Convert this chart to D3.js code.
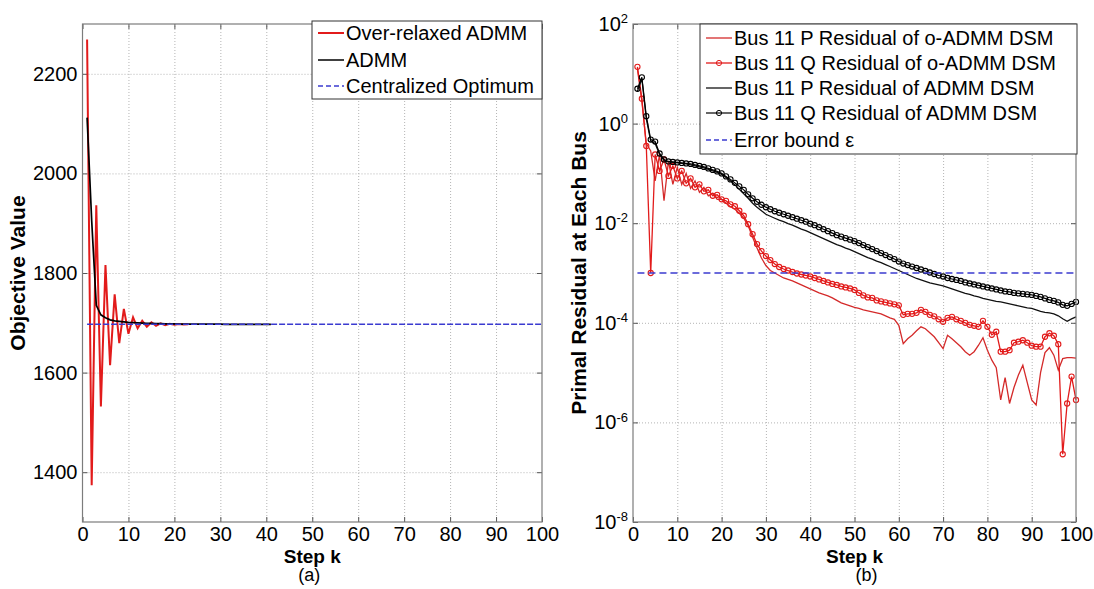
<!DOCTYPE html>
<html>
<head>
<meta charset="utf-8">
<script src="https://cdn.jsdelivr.net/npm/d3@7"></script>
<style>
  html, body { margin: 0; padding: 0; background: #fff; }
  svg { display: block; font-family: Arial, "Liberation Sans", Helvetica, sans-serif; }
</style>
</head>
<body>
<svg id="fig" width="1094" height="589"></svg>
<script>
// ---------------- data ----------------
const stepTicks = [0, 10, 20, 30, 40, 50, 60, 70, 80, 90, 100];
const objectiveTicks = [1400, 1600, 1800, 2000, 2200];
const residualTicks = [1e-8, 1e-6, 1e-4, 1e-2, 1e0, 1e2];

// (a) objective value per step
const objectiveOverRelaxed = [
  2269, 1374, 1936, 1532, 1816, 1615, 1757, 1659, 1728, 1678,
  1711, 1689, 1704, 1692, 1701, 1694, 1699, 1695, 1698, 1696,
  1697.5, 1696.5, 1697
];
const objectiveADMM = [
  2112, 1905, 1735, 1716, 1710, 1706, 1704, 1703, 1702, 1701,
  1700.5, 1700, 1699.5, 1699, 1699, 1698.5, 1698.5, 1698, 1698, 1698,
  1697.5, 1697.5, 1697.5, 1697.5, 1697.5, 1697.5, 1697.5, 1697.5, 1697.5, 1697.5,
  1697, 1697, 1697, 1697, 1697, 1697, 1697, 1697, 1697, 1697, 1697
];
const centralizedOptimum = 1697;

// (b) primal residuals at bus 11, stored as base-10 exponents (steps 1..100)
const pResidualOADMMExp = [
   1.10,  0.45, -0.40, -0.55, -1.15, -0.62, -1.55, -0.75, -1.22, -0.88,
  -1.22, -1.00, -1.30, -1.15, -1.38, -1.28, -1.45, -1.40, -1.52, -1.52,
  -1.60, -1.67, -1.72, -1.80, -1.90, -2.05, -2.28, -2.50, -2.70, -2.85,
  -2.95, -3.00, -3.05, -3.10, -3.13, -3.16, -3.20, -3.24, -3.28, -3.32,
  -3.36, -3.40, -3.43, -3.46, -3.50, -3.55, -3.60, -3.63, -3.66, -3.69,
  -3.71, -3.74, -3.76, -3.78, -3.80, -3.82, -3.86, -3.90, -3.93, -4.05,
  -4.42, -4.32, -4.25, -4.16, -4.08, -4.12, -4.20, -4.28, -4.40, -4.52,
  -4.25, -4.32, -4.40, -4.48, -4.58, -4.65, -4.58, -4.45, -4.30, -4.55,
  -4.75, -4.90, -5.55, -5.10, -5.62, -5.30, -5.05, -4.85, -5.20, -5.55,
  -5.65, -5.00, -4.60, -4.50, -4.65, -4.95, -4.72, -4.70, -4.70, -4.71
];
const qResidualOADMMExp = [
   1.14,  0.50, -0.45, -3.00, -0.62, -0.95, -0.72, -1.05, -0.85, -1.10,
  -0.95, -1.20, -1.10, -1.28, -1.22, -1.36, -1.33, -1.45, -1.43, -1.52,
  -1.55, -1.62, -1.66, -1.75, -1.85, -2.02, -2.22, -2.42, -2.56, -2.66,
  -2.74, -2.82, -2.88, -2.92, -2.95, -2.98, -3.01, -3.03, -3.05, -3.07,
  -3.10, -3.13, -3.16, -3.19, -3.22, -3.24, -3.27, -3.29, -3.31, -3.34,
  -3.40, -3.45, -3.49, -3.50, -3.55, -3.57, -3.59, -3.61, -3.63, -3.65,
  -3.84, -3.82, -3.82, -3.80, -3.74, -3.78, -3.84, -3.87, -3.93, -3.98,
  -3.90, -3.88, -3.93, -3.96, -4.00, -4.04, -4.06, -4.08, -3.96, -4.08,
  -4.24, -4.18, -4.58, -4.58, -4.55, -4.40, -4.38, -4.35, -4.40, -4.46,
  -4.48, -4.48, -4.28, -4.21, -4.26, -4.43, -6.64, -5.62, -5.08, -5.55
];
const pResidualADMMExp = [
   0.65,  0.90,  0.10, -0.35, -0.40, -0.62, -0.74, -0.77, -0.78, -0.79,
  -0.80, -0.81, -0.83, -0.85, -0.87, -0.89, -0.92, -0.95, -0.98, -1.02,
  -1.08, -1.15, -1.23, -1.32, -1.41, -1.50, -1.60, -1.68, -1.75, -1.82,
  -1.86, -1.90, -1.94, -1.97, -2.01, -2.04, -2.08, -2.12, -2.15, -2.19,
  -2.23, -2.27, -2.31, -2.35, -2.39, -2.43, -2.46, -2.50, -2.53, -2.57,
  -2.61, -2.65, -2.69, -2.72, -2.76, -2.79, -2.83, -2.87, -2.91, -2.95,
  -2.99, -3.03, -3.07, -3.11, -3.14, -3.17, -3.20, -3.22, -3.24, -3.26,
  -3.29, -3.32, -3.35, -3.38, -3.41, -3.43, -3.46, -3.48, -3.51, -3.53,
  -3.55, -3.57, -3.58, -3.60, -3.62, -3.64, -3.66, -3.68, -3.70, -3.71,
  -3.74, -3.77, -3.79, -3.80, -3.82, -3.86, -3.92, -3.97, -3.92, -3.88
];
const qResidualADMMExp = [
   0.70,  0.93,  0.15, -0.32, -0.36, -0.60, -0.72, -0.76, -0.77, -0.78,
  -0.79, -0.80, -0.81, -0.83, -0.85, -0.87, -0.90, -0.93, -0.96, -1.00,
  -1.06, -1.12, -1.19, -1.26, -1.33, -1.42, -1.50, -1.57, -1.63, -1.68,
  -1.72, -1.76, -1.79, -1.82, -1.85, -1.88, -1.91, -1.94, -1.97, -2.01,
  -2.04, -2.08, -2.12, -2.16, -2.20, -2.24, -2.27, -2.30, -2.33, -2.36,
  -2.40, -2.44, -2.48, -2.52, -2.56, -2.60, -2.64, -2.68, -2.72, -2.77,
  -2.81, -2.84, -2.87, -2.90, -2.93, -2.96, -2.99, -3.02, -3.05, -3.07,
  -3.10, -3.12, -3.14, -3.16, -3.19, -3.21, -3.23, -3.25, -3.27, -3.29,
  -3.31, -3.33, -3.35, -3.37, -3.38, -3.40, -3.41, -3.42, -3.43, -3.44,
  -3.46, -3.48, -3.51, -3.54, -3.56, -3.59, -3.64, -3.66, -3.62, -3.58
];
const errorBound = 1e-3;

// ---------------- figure ----------------
const W = 1094, H = 589;
const FONT = 20;
const svg = d3.select('#fig');
svg.append('rect').attr('width', W).attr('height', H).attr('fill', '#fff');

const C = {
  red: '#e21b1b', redP: '#d42a2a', black: '#000', blue: '#3b3bd0',
  grid: '#b4b4b4', box: '#7c7c7c'
};

// series helpers: pair step index with value
const asSteps = arr => arr.map((v, i) => ({ k: i + 1, v }));
const asStepsExp = arr => arr.map((e, i) => ({ k: i + 1, v: Math.pow(10, e) }));

function drawFrame(g, x, y, yTicks, yLabel) {
  const [x0, x1] = x.range();
  const [y1, y0] = y.range();
  const innerX = stepTicks.filter(v => v > 0 && v < 100);
  const innerY = yTicks.filter(v => y(v) > y0 + 1 && y(v) < y1 - 1);

  // dotted grid
  const gx = g.append('g').attr('transform', `translate(0,${y1})`)
    .call(d3.axisBottom(x).tickValues(innerX).tickSize(-(y1 - y0)).tickFormat(''));
  const gy = g.append('g').attr('transform', `translate(${x0},0)`)
    .call(d3.axisLeft(y).tickValues(innerY).tickSize(-(x1 - x0)).tickFormat(''));
  [gx, gy].forEach(s => {
    s.select('.domain').remove();
    s.selectAll('line').attr('stroke', C.grid).attr('stroke-width', 1).attr('stroke-dasharray', '1,2');
  });

  // inward ticks on all four sides, labels on bottom and left
  const bottom = g.append('g').attr('transform', `translate(0,${y1})`)
    .call(d3.axisBottom(x).tickValues(stepTicks).tickSizeInner(-5).tickSizeOuter(0).tickPadding(5));
  const top = g.append('g').attr('transform', `translate(0,${y0})`)
    .call(d3.axisTop(x).tickValues(stepTicks).tickSizeInner(-5).tickSizeOuter(0).tickFormat(''));
  const left = g.append('g').attr('transform', `translate(${x0},0)`)
    .call(d3.axisLeft(y).tickValues(yTicks).tickSizeInner(-5).tickSizeOuter(0).tickPadding(5).tickFormat(yLabel.fmt));
  const right = g.append('g').attr('transform', `translate(${x1},0)`)
    .call(d3.axisRight(y).tickValues(yTicks).tickSizeInner(-5).tickSizeOuter(0).tickFormat(''));
  [bottom, top, left, right].forEach(s => {
    s.select('.domain').remove();
    s.selectAll('line').attr('stroke', '#555');
    s.selectAll('text').attr('font-size', FONT).attr('fill', '#000')
      .attr('font-family', 'Arial, "Liberation Sans", sans-serif');
  });
  if (yLabel.super) {
    left.selectAll('.tick text').each(function (d) {
      const t = d3.select(this).text(null);
      t.append('tspan').text('10');
      t.append('tspan').attr('font-size', 13).attr('dy', '-0.6em').text(String(Math.round(Math.log10(d))));
    });
  }
  return { x0, x1, y0, y1 };
}

function drawBox(g, f) {
  g.append('rect').attr('x', f.x0).attr('y', f.y0)
    .attr('width', f.x1 - f.x0).attr('height', f.y1 - f.y0)
    .attr('fill', 'none').attr('stroke', C.box).attr('stroke-width', 1.2);
}

function drawTitles(g, f, yTitle, tag, tagDx) {
  const cx = (f.x0 + f.x1) / 2;
  g.append('text').attr('x', cx).attr('y', 563).attr('text-anchor', 'middle')
    .attr('font-size', FONT - 1).attr('font-weight', 'bold').text('Step k');
  g.append('text').attr('x', cx + tagDx).attr('y', 581).attr('text-anchor', 'middle')
    .attr('font-size', FONT - 2).text(tag);
  g.append('text').attr('transform', `translate(${yTitle.x},${(f.y0 + f.y1) / 2}) rotate(-90)`)
    .attr('text-anchor', 'middle').attr('font-size', FONT + 1).attr('font-weight', 'bold')
    .text(yTitle.text);
}

function legend(g, box, entries, rowY) {
  g.append('rect').attr('x', box.x).attr('y', box.y).attr('width', box.w).attr('height', box.h)
    .attr('fill', '#fff').attr('stroke', '#333').attr('stroke-width', 1);
  entries.forEach((e, i) => {
    const cy = rowY[i];
    g.append('line').attr('x1', box.x + 6).attr('x2', box.x + 32).attr('y1', cy).attr('y2', cy)
      .attr('stroke', e.color).attr('stroke-width', e.width)
      .attr('stroke-dasharray', e.dash || null);
    if (e.marker) {
      g.append('circle').attr('cx', box.x + 19).attr('cy', cy).attr('r', 2.6)
        .attr('fill', 'none').attr('stroke', e.color).attr('stroke-width', 1);
    }
    g.append('text').attr('x', box.x + 34).attr('y', cy + 7).attr('font-size', FONT).text(e.label);
  });
}

// ---------- (a) objective value ----------
const xA = d3.scaleLinear().domain([0, 100]).range([82.5, 542]);
const yA = d3.scaleLinear().domain([1300, 2300]).range([522, 24]);
const gA = svg.append('g');
const fA = drawFrame(gA, xA, yA, objectiveTicks, { fmt: d3.format('d') });

const lineA = d3.line().x(d => xA(d.k)).y(d => yA(d.v));
gA.append('path').datum(asSteps(objectiveOverRelaxed)).attr('d', lineA)
  .attr('fill', 'none').attr('stroke', C.red).attr('stroke-width', 2);
gA.append('path').datum(asSteps(objectiveADMM)).attr('d', lineA)
  .attr('fill', 'none').attr('stroke', C.black).attr('stroke-width', 1.7);
gA.append('line').attr('x1', xA(1)).attr('x2', xA(100))
  .attr('y1', yA(centralizedOptimum)).attr('y2', yA(centralizedOptimum))
  .attr('stroke', C.blue).attr('stroke-width', 1.4).attr('stroke-dasharray', '6,2');
drawBox(gA, fA);
drawTitles(gA, fA, { x: 25, text: 'Objective Value' }, '(a)', -3);
legend(gA, { x: 312, y: 21, w: 230, h: 78 }, [
  { label: 'Over-relaxed ADMM', color: C.red, width: 2 },
  { label: 'ADMM', color: C.black, width: 1.5 },
  { label: 'Centralized Optimum', color: C.blue, width: 1.3, dash: '5,3' }
], [33, 60, 86]);

// ---------- (b) primal residual ----------
const xB = d3.scaleLinear().domain([0, 100]).range([633, 1076]);
const yB = d3.scaleLog().domain([1e-8, 1e2]).range([522, 24]);
const gB = svg.append('g');
const fB = drawFrame(gB, xB, yB, residualTicks, { fmt: () => '', super: true });

const lineB = d3.line().x(d => xB(d.k)).y(d => yB(d.v));
const seriesB = [
  { data: asStepsExp(pResidualOADMMExp), color: C.redP, width: 1.3, marker: false },
  { data: asStepsExp(qResidualOADMMExp), color: C.red, width: 1.3, marker: true },
  { data: asStepsExp(pResidualADMMExp), color: '#111', width: 1.3, marker: false },
  { data: asStepsExp(qResidualADMMExp), color: C.black, width: 1.2, marker: true }
];
seriesB.forEach(s => {
  gB.append('path').datum(s.data).attr('d', lineB)
    .attr('fill', 'none').attr('stroke', s.color).attr('stroke-width', s.width);
  if (s.marker) {
    gB.append('g').selectAll('circle').data(s.data).join('circle')
      .attr('cx', d => xB(d.k)).attr('cy', d => yB(d.v)).attr('r', 2.6)
      .attr('fill', 'none').attr('stroke', s.color).attr('stroke-width', 1.1);
  }
});
gB.append('line').attr('x1', xB(1)).attr('x2', xB(100))
  .attr('y1', yB(errorBound)).attr('y2', yB(errorBound))
  .attr('stroke', C.blue).attr('stroke-width', 1.4).attr('stroke-dasharray', '7,4');
drawBox(gB, fB);
drawTitles(gB, fB, { x: 586, text: 'Primal Residual at Each Bus' }, '(b)', 12);
legend(gB, { x: 700, y: 24, w: 377, h: 130 }, [
  { label: 'Bus 11 P Residual of o-ADMM DSM', color: C.redP, width: 1.3 },
  { label: 'Bus 11 Q Residual of o-ADMM DSM', color: C.red, width: 1.3, marker: true },
  { label: 'Bus 11 P Residual of ADMM DSM', color: '#111', width: 1.3 },
  { label: 'Bus 11 Q Residual of ADMM DSM', color: C.black, width: 1.2, marker: true },
  { label: 'Error bound \u03b5', color: C.blue, width: 1.3, dash: '5,3' }
], [38, 63, 88, 113, 140]);
</script>
</body>
</html>
